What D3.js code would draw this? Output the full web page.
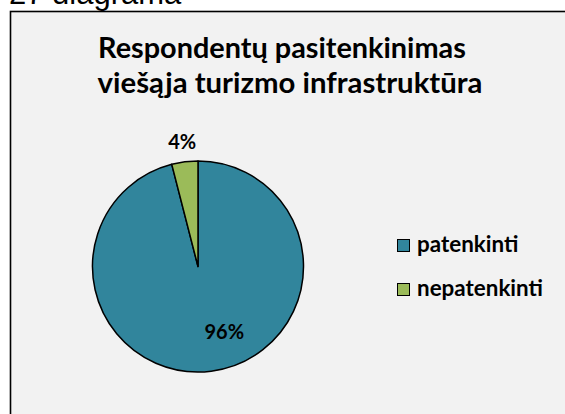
<!DOCTYPE html>
<html><head><meta charset="utf-8">
<script src="https://cdn.jsdelivr.net/npm/d3@7"></script>
<style>html,body{margin:0;padding:0;background:#fff;overflow:hidden}</style>
</head><body>
<script>
const categories = ["patenkinti", "nepatenkinti"];
const values = [96, 4];
const labels = ["96%", "4%"];
const colors = ["#31859C", "#9BBB59"];
const titleLines = ["Respondentų pasitenkinimas", "viešąja turizmo infrastruktūra"];
const caption = "27 diagrama";

const W = 565, H = 414;
const svg = d3.select("body").append("svg").attr("width", W).attr("height", H);
const bold = "Lato, 'Open Sans', sans-serif";

svg.append("text").attr("x", 9).attr("y", 4)
  .style("font-family", "'Liberation Sans', Arial, sans-serif").style("font-size", "31px")
  .attr("fill", "#000").text(caption);

svg.append("rect").attr("x", 10.5).attr("y", 11.5).attr("width", W + 10).attr("height", H + 10)
  .attr("fill", "#F2F2F2").attr("stroke", "#000").attr("stroke-width", 1.6);

const titleY = [58, 93];
const titleX = [282, 290];
const titleW = [368, 385];
titleLines.forEach((t, i) => {
  const tx = svg.append("text").attr("x", titleX[i]).attr("y", titleY[i]).attr("text-anchor", "middle")
    .style("font-family", bold).style("font-weight", "bold").style("font-size", "22px")
    .attr("fill", "#000").text(t);
  const w = tx.node().getComputedTextLength();
  tx.style("font-size", (22 * titleW[i] / w).toFixed(2) + "px");
});

const cx = 198, cy = 266.5, r = 105.5;
const pie = d3.pie().sort(null).value(d => d)(values);
const arc = d3.arc().innerRadius(0).outerRadius(r);
const g = svg.append("g").attr("transform", `translate(${cx},${cy})`);
g.selectAll("path").data(pie).join("path")
  .attr("d", arc).attr("fill", (d, i) => colors[i])
  .attr("stroke", "#000").attr("stroke-width", 1.5).attr("stroke-linejoin", "round");

const labelR = [66, 126];
const labelDx = [18, 0];
pie.forEach((d, i) => {
  const a = (d.startAngle + d.endAngle) / 2;
  const x = Math.sin(a) * labelR[i] + labelDx[i];
  const y = -Math.cos(a) * labelR[i];
  g.append("text").attr("x", x).attr("y", y).attr("dy", "0.36em").attr("text-anchor", "middle")
    .style("font-family", bold).style("font-weight", "bold").style("font-size", "20px")
    .attr("fill", "#000").text(labels[i]);
});

const leg = svg.append("g").attr("transform", "translate(397,239)");
categories.forEach((c, i) => {
  const row = leg.append("g").attr("transform", `translate(0,${i * 44})`);
  row.append("rect").attr("x", 0.5).attr("y", 0.5).attr("width", 12).attr("height", 12)
    .attr("fill", colors[i]).attr("stroke", "#000").attr("stroke-width", 1);
  const t = row.append("text").attr("x", 20).attr("y", 13)
    .style("font-family", bold).style("font-weight", "bold").style("font-size", "16px")
    .attr("fill", "#000").text(c);
  if (i === 1) {
    const w = t.node().getComputedTextLength();
    const fs = 16 * 126 / w;
    leg.selectAll("text").style("font-size", fs.toFixed(2) + "px");
  }
});
</script>
</body></html>
